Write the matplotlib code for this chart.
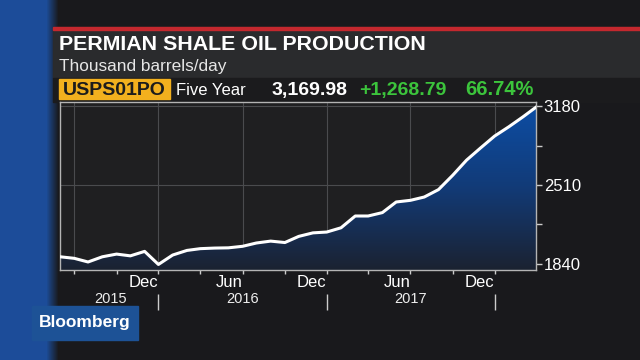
import numpy as np
import pandas as pd
import matplotlib
matplotlib.use('Agg')
import matplotlib.pyplot as plt
import matplotlib.dates as mdates
from matplotlib.colors import LinearSegmentedColormap
from matplotlib.patches import Rectangle

plt.rcParams['font.family'] = ['Liberation Sans', 'DejaVu Sans']

# monthly Permian output, thousand barrels/day
months = pd.date_range('2015-05-01', '2018-03-01', freq='MS')
production = [1901.19, 1888, 1857, 1901, 1924, 1909, 1947, 1836,
              1916, 1955, 1970, 1975, 1977, 1990, 2018, 2034, 2022, 2074, 2104, 2111,
              2147, 2247, 2247, 2276, 2366, 2380, 2408, 2471, 2593, 2721, 2826, 2925,
              3004, 3089, 3169.98]

title = 'PERMIAN SHALE OIL PRODUCTION'
subtitle = 'Thousand barrels/day'
ticker = 'USPS01PO'
period = 'Five Year'

y_ticks = [1840, 2510, 3180]
y_minor = [2175, 2845]
x_major = pd.to_datetime(['2015-06-01', '2015-12-01', '2016-06-01',
                          '2016-12-01', '2017-06-01', '2017-12-01'])
x_major_labels = ['', 'Dec', 'Jun', 'Dec', 'Jun', 'Dec']
x_minor = pd.to_datetime(['2015-09-01', '2016-03-01', '2016-09-01',
                          '2017-03-01', '2017-09-01'])
year_breaks = pd.to_datetime(['2015-12-01', '2016-12-01', '2017-12-01'])
year_names = ['2015', '2016', '2017']
year_pos = pd.to_datetime(['2015-08-20', '2016-06-01', '2017-06-01'])

last = production[-1]
change = production[-1] - production[0]
pct = change / production[0] * 100

W, H = 640, 360
fig = plt.figure(figsize=(6.4, 3.6), dpi=100)
fig.patch.set_facecolor('#1a1a1c')

# background layer in pixel coordinates
bg = fig.add_axes([0, 0, 1, 1], zorder=0)
bg.set_xlim(0, W)
bg.set_ylim(H, 0)
bg.axis('off')

# blue stripe on the left
xs = np.arange(W)
fade = np.clip((58 - xs) / 12.0, 0, 1)
blue = np.array([0.11, 0.30, 0.60])
dark = np.array([0.10, 0.10, 0.11])
row = dark[None, :] * (1 - fade[:, None]) + blue[None, :] * fade[:, None]
img = np.repeat(row[None, :, :], H, axis=0)
bg.imshow(img, extent=[0, W, H, 0], aspect='auto', zorder=0)

# header panel
bg.add_patch(Rectangle((53, 27), W - 53, 51, color='#2a2b2d', zorder=1))
bg.add_patch(Rectangle((53, 27), W - 53, 3, color='#c4282e', zorder=2))
bg.add_patch(Rectangle((53, 78), W - 53, 24, color='#1b1b1d', zorder=1))
bg.text(59, 50, title, fontsize=15.4, fontweight='bold', color='white', va='baseline', zorder=3)
bg.text(59, 71, subtitle, fontsize=12.4, color='#e6e6e6', va='baseline', zorder=3)
bg.add_patch(Rectangle((59, 79), 111, 20, color='#f2b01e', zorder=2))
bg.text(63, 95, ticker, fontsize=14, fontweight='bold', color='#1c1c1c', va='baseline', zorder=3)
bg.text(176, 95, period, fontsize=12, color='white', va='baseline', zorder=3)
bg.text(272, 95, f'{last:,.2f}', fontsize=14, fontweight='bold', color='white',
        va='baseline', zorder=3)
bg.text(359, 95, f'+{change:,.2f}', fontsize=14, fontweight='bold', color='#3cc43c',
        va='baseline', zorder=3)
bg.text(465, 95, f'{pct:.2f}%', fontsize=14.5, fontweight='bold', color='#3cc43c',
        va='baseline', zorder=3)

# Bloomberg tag
bg.add_patch(Rectangle((32, 306), 106, 34, color='#1d5296', zorder=2))
bg.text(85, 323, 'Bloomberg', fontsize=12.5, fontweight='bold', color='white',
        ha='center', va='center', zorder=3)

# main chart
ax = fig.add_axes([60 / W, 1 - 270 / H, 476 / W, 168 / H], zorder=1)
ax.set_facecolor('#1f1f21')
ymin, ymax = 1789, 3214
x0, x1 = mdates.date2num(months[0]), mdates.date2num(months[-1])

poly = ax.fill_between(months, production, ymin, facecolor='none', edgecolor='none')
cmap = LinearSegmentedColormap.from_list('fill', ['#1b2231', '#123b78', '#0c4ea6'])
grad = np.linspace(0, 1, 256)[:, None]
im = ax.imshow(grad, extent=[x0, x1, ymin, ymax], origin='lower', aspect='auto',
               cmap=cmap, zorder=1)
im.set_clip_path(poly.get_paths()[0], transform=ax.transData)
ax.plot(months, production, color='white', lw=2.2, zorder=3, solid_joinstyle='round')

ax.set_xlim(x0, x1)
ax.set_ylim(ymin, ymax)

ax.yaxis.tick_right()
ax.set_yticks(y_ticks)
ax.set_yticks(y_minor, minor=True)
ax.set_yticklabels([str(v) for v in y_ticks])
ax.set_xticks(x_major)
ax.set_xticks(x_minor, minor=True)
ax.set_xticklabels(x_major_labels, ha='right')

ax.tick_params(axis='y', which='both', colors='#cccccc', labelcolor='white',
               labelsize=12, length=4, width=1, pad=1.5)
ax.tick_params(axis='x', which='both', colors='#cccccc', labelcolor='white',
               labelsize=12, length=3, width=1, pad=0.5)
ax.grid(True, which='major', color='#4a4b4e', lw=0.8, zorder=2)
ax.set_axisbelow(True)
for s in ax.spines.values():
    s.set_color('#b4b4b4')
    s.set_linewidth(1)

xt = ax.get_xaxis_transform()
ax.vlines(year_breaks, -0.14, -0.24, transform=xt, clip_on=False, color='#cccccc', lw=1)
for d, name in zip(year_pos, year_names):
    ax.text(d, -0.196, name, transform=xt, ha='center', va='baseline',
            fontsize=10.5, color='#eeeeee')

fig.savefig('out.png', dpi=100, facecolor=fig.get_facecolor())
